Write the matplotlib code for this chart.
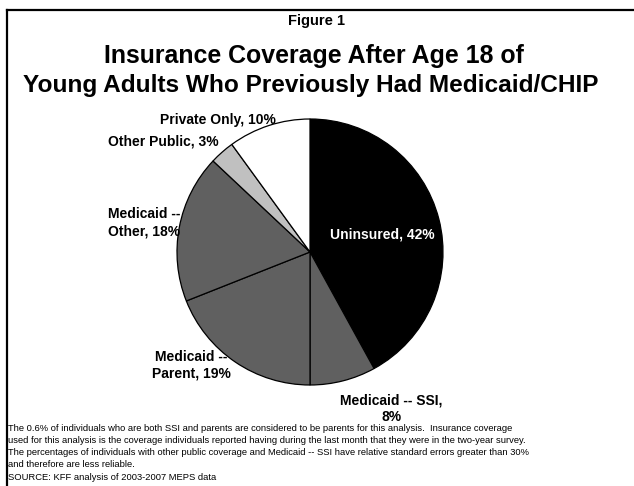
import matplotlib
matplotlib.use('Agg')
import matplotlib.pyplot as plt
from matplotlib.lines import Line2D

plt.rcParams['font.family'] = ['Liberation Sans', 'DejaVu Sans']

# data
categories = ['Uninsured', 'Medicaid -- SSI', 'Medicaid -- Parent', 'Medicaid -- Other', 'Other Public', 'Private Only']
values = [42, 8, 19, 18, 3, 10]
labels = ['Uninsured, 42%', 'Medicaid -- SSI,\n8%', 'Medicaid --\nParent, 19%',
          'Medicaid --\nOther, 18%', 'Other Public, 3%', 'Private Only, 10%']
colors = ['#000000', '#606060', '#606060', '#606060', '#c0c0c0', '#ffffff']
label_pos = [(0.54, 0.13), (0.61, -1.18), (-0.89, -0.85), (-1.25, 0.22), (-1.10, 0.83), (-0.69, 0.99)]
label_colors = ['white', 'black', 'black', 'black', 'black', 'black']

footnote = ['The 0.6% of individuals who are both SSI and parents are considered to be parents for this analysis.  Insurance coverage',
            'used for this analysis is the coverage individuals reported having during the last month that they were in the two-year survey.',
            'The percentages of individuals with other public coverage and Medicaid -- SSI have relative standard errors greater than 30%',
            'and therefore are less reliable.',
            'SOURCE: KFF analysis of 2003-2007 MEPS data']

W, H = 634, 486
fig = plt.figure(figsize=(W/100, H/100), dpi=100)

# frame (top and left edges)
fig.add_artist(Line2D([7/W, 1], [1-10/H, 1-10/H], color='black', lw=1.6, transform=fig.transFigure))
fig.add_artist(Line2D([7/W, 7/W], [0, 1-10/H], color='black', lw=1.6, transform=fig.transFigure))

fig.text(0.5, 1-21/H, 'Figure 1', ha='center', va='center', fontsize=10.5, fontweight='bold')
fig.text(314/W, 1-63/H, 'Insurance Coverage After Age 18 of', ha='center', va='baseline', fontsize=17.9, fontweight='bold')
fig.text(311/W, 1-92/H, 'Young Adults Who Previously Had Medicaid/CHIP', ha='center', va='baseline', fontsize=17.6, fontweight='bold')

cx, cy, r = 310, 252, 133
ax = fig.add_axes([(cx-r)/W, (H-cy-r)/H, 2*r/W, 2*r/H])
ax.pie(values, colors=colors, startangle=90, counterclock=False,
       wedgeprops=dict(edgecolor='black', linewidth=0.9))
ax.set_xlim(-1, 1)
ax.set_ylim(-1, 1)
ax.set_aspect('equal')
ax.axis('off')

for lab, (x, y), c in zip(labels, label_pos, label_colors):
    ax.text(x, y, lab, ha='center', va='center', fontsize=10, fontweight='bold', color=c,
            linespacing=1.25, clip_on=False)

for i, line in enumerate(footnote):
    fig.text(8/W, 1-(428+12.3*i)/H, line, ha='left', va='center', fontsize=6.75)

fig.savefig('out.png', dpi=100)
